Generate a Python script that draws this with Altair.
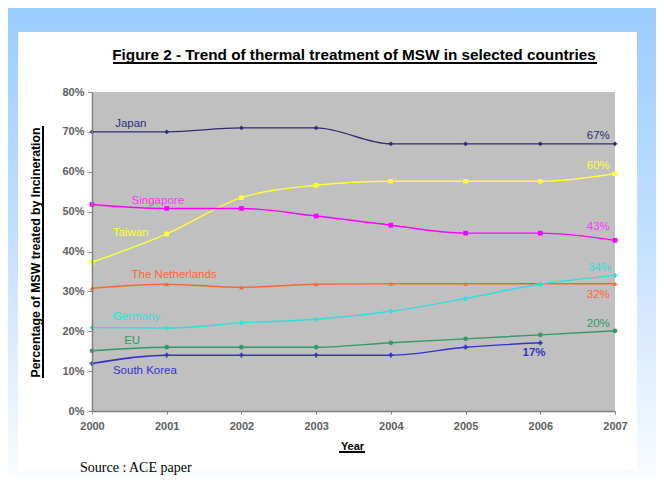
import altair as alt
import pandas as pd

years = [2000, 2001, 2002, 2003, 2004, 2005, 2006, 2007]
japan = [70, 70, 71, 71, 67, 67, 67, 67]
taiwan = [37.3, 44.4, 53.5, 56.6, 57.6, 57.6, 57.6, 59.5]
singapore = [51.8, 50.8, 50.8, 48.9, 46.6, 44.6, 44.6, 42.8]
netherlands = [30.8, 31.8, 31.0, 31.8, 31.9, 31.9, 31.9, 31.9]
germany = [20.9, 20.8, 22.1, 23.0, 25.0, 28.2, 31.8, 34.0]
eu = [15.1, 16.0, 16.0, 16.0, 17.1, 18.1, 19.1, 20.1]
south_korea = [11.9, 14.0, 14.0, 14.0, 14.0, 16.0, 17.1, None]

series_names = ["Japan", "Taiwan", "Singapore", "The Netherlands", "Germany", "EU", "South Korea"]
series_values = [japan, taiwan, singapore, netherlands, germany, eu, south_korea]
series_colors = ["#2e2e6e", "#ffff33", "#ff00ff", "#ff6633", "#33dddd", "#339966", "#3333cc"]
series_shapes = ["diamond", "square", "square", "triangle-up", "cross", "circle", "cross"]

y_ticks = [0, 10, 20, 30, 40, 50, 60, 70, 80]

# series name labels (left) and end-value labels
label_text = ["Japan", "Singapore", "Taiwan", "The Netherlands", "Germany", "EU", "South Korea",
              "67%", "60%", "43%", "34%", "32%", "20%", "17%"]
label_x = [2000.31, 2000.53, 2000.28, 2000.53, 2000.28, 2000.43, 2000.28,
           2006.93, 2006.93, 2006.93, 2006.95, 2006.93, 2006.93, 2006.07]
label_y = [72.0, 52.7, 44.6, 34.1, 23.6, 17.5, 10.1,
           68.9, 61.4, 46.2, 35.8, 29.1, 21.8, 14.6]
label_color = ["#2e2e7e", "#ff33ff", "#ffff33", "#ff6633", "#33dddd", "#339966", "#3333cc",
               "#2e2e6e", "#ffff33", "#ff33ff", "#33dddd", "#ff6633", "#339966", "#3333cc"]
label_align = ["left"] * 7 + ["right"] * 7
label_weight = ["normal"] * 6 + ["bold"] + ["normal"] * 6 + ["bold"]

rows = []
for name, vals in zip(series_names, series_values):
    for yr, v in zip(years, vals):
        if v is not None:
            rows.append({"country": name, "year": yr, "value": v})
df = pd.DataFrame(rows)

labels = pd.DataFrame({"text": label_text, "x": label_x, "y": label_y, "color": label_color,
                       "align": label_align, "weight": label_weight})

W, H = 523, 319
FONT = "Liberation Sans, Arial, sans-serif"

xscale = alt.Scale(domain=[2000, 2007], nice=False, zero=False)
yscale = alt.Scale(domain=[0, 80], nice=False)
color = alt.Color("country:N", scale=alt.Scale(domain=series_names, range=series_colors), legend=None)
shape = alt.Shape("country:N", scale=alt.Scale(domain=series_names, range=series_shapes), legend=None)

xaxis = alt.Axis(values=years, format="d", title="Year", labelFont=FONT, labelFontSize=11,
                 labelFontWeight="bold", labelColor="#606060", tickColor="#808080", tickSize=3,
                 domainColor="#808080", domainWidth=1.5, grid=False, labelPadding=6,
                 labelOverlap=False, labelFlush=False,
                 titleFont=FONT, titleFontSize=11, titleFontWeight="bold", titleColor="#000000",
                 titleX=260, titleY=38, titleBaseline="alphabetic", titleAlign="center", zindex=1)
yaxis = alt.Axis(values=y_ticks, labelExpr="datum.value + '%'",
                 title="Percentage of MSW treated by Incineration", labelFont=FONT, labelFontSize=11,
                 labelFontWeight="bold", labelColor="#606060", tickColor="#808080", tickSize=4,
                 domainColor="#808080", domainWidth=1.5, grid=False, labelPadding=4,
                 labelOverlap=False, labelFlush=False,
                 titleFont=FONT, titleFontSize=12.3, titleFontWeight="bold", titleColor="#000000",
                 titleAngle=-90, titleX=-53, titleY=160, titleAlign="center",
                 titleBaseline="alphabetic", zindex=1)

grad = alt.LinearGradient(gradient="linear",
                          stops=[alt.GradientStop(color="#99ccff", offset=0),
                                 alt.GradientStop(color="#c4e0ff", offset=0.5),
                                 alt.GradientStop(color="#fbfdff", offset=1)],
                          x1=0, x2=0, y1=0, y2=1)

base = alt.Chart(df)

bg = base.mark_rect(color=grad).encode(
    x=alt.value(-85), x2=alt.value(568), y=alt.value(-92), y2=alt.value(392))
panel = base.mark_rect(color="#ffffff").encode(
    x=alt.value(-74), x2=alt.value(545), y=alt.value(-60), y2=alt.value(378))
plotbg = base.mark_rect(color="#c0c0c0").encode(
    x=alt.value(0), x2=alt.value(W), y=alt.value(0), y2=alt.value(H))

X = alt.X("year:Q", scale=xscale, axis=xaxis)
Y = alt.Y("value:Q", scale=yscale, axis=yaxis)

lines = base.mark_line(interpolate="monotone", strokeWidth=1.4).encode(
    x=X, y=Y, color=color, detail="country:N")
points = base.mark_point(filled=True, size=22, opacity=1).encode(
    x=X, y=Y, color=color, shape=shape)

def label_layer(sub, align, size, weight):
    return alt.Chart(sub).mark_text(
        align=align, baseline="middle", font=FONT, fontSize=size, fontWeight=weight).encode(
        x=alt.X("x:Q", scale=xscale, axis=xaxis), y=alt.Y("y:Q", scale=yscale, axis=yaxis),
        text="text:N", color=alt.Color("color:N", scale=None))

lab_left = label_layer(labels[(labels["align"] == "left") & (labels["weight"] == "normal")], "left", 11.5, "normal")
lab_left_b = label_layer(labels[(labels["align"] == "left") & (labels["weight"] == "bold")], "left", 11.5, "normal")
lab_right = label_layer(labels[(labels["align"] == "right") & (labels["weight"] == "normal")], "right", 11.5, "normal")
lab_right_b = label_layer(labels[(labels["align"] == "right") & (labels["weight"] == "bold")], "right", 11.5, "bold")

title_df = pd.DataFrame({"t": ["Figure 2 - Trend of thermal treatment of MSW in selected countries"]})
title = alt.Chart(title_df).mark_text(align="center", baseline="alphabetic", font=FONT,
                                      fontSize=15.3, fontWeight="bold", color="#000000").encode(
    x=alt.value(262), y=alt.value(-32), text="t:N")
source_df = pd.DataFrame({"t": ["Source : ACE paper"]})
source = alt.Chart(source_df).mark_text(align="left", baseline="alphabetic",
                                        font="Liberation Serif, Times New Roman, serif",
                                        fontSize=14, color="#000000").encode(
    x=alt.value(-12), y=alt.value(380), text="t:N")

ul1 = base.mark_rule(color="#000000", strokeWidth=1.2).encode(
    x=alt.value(21), x2=alt.value(505), y=alt.value(-29))
ul2 = base.mark_rule(color="#000000", strokeWidth=1.2).encode(
    x=alt.value(-49), y=alt.value(34), y2=alt.value(286))
ul3 = base.mark_rule(color="#000000", strokeWidth=1.2).encode(
    x=alt.value(247), x2=alt.value(273), y=alt.value(360))

chart = alt.layer(bg, panel, plotbg, lines, points, lab_left, lab_left_b, lab_right, lab_right_b,
                  title, source, ul1, ul2, ul3).properties(
    width=W, height=H,
    background="#ffffff",
    autosize=alt.AutoSizeParams(type="none"),
    padding={"left": 84, "top": 84, "right": 41, "bottom": 65},
).configure_view(stroke=None)

chart.save("out.html", embed_options={"renderer": "svg", "actions": False})
